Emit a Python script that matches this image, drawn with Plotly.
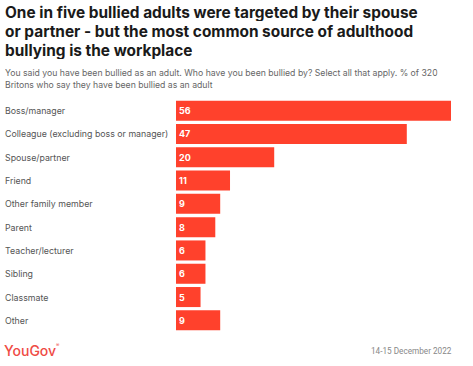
import plotly.graph_objects as go

categories = ["Boss/manager", "Colleague (excluding boss or manager)", "Spouse/partner",
              "Friend", "Other family member", "Parent", "Teacher/lecturer",
              "Sibling", "Classmate", "Other"]
values = [56, 47, 20, 11, 9, 8, 6, 6, 5, 9]

title_lines = ["One in five bullied adults were targeted by their spouse",
               "or partner - but the most common source of adulthood",
               "bullying is the workplace"]
subtitle_lines = ["You said you have been bullied as an adult. Who have you been bullied by? Select all that apply. % of 320",
                  "Britons who say they have been bullied as an adult"]
source_text = "14-15 December 2022"

W, H = 473, 366
L, R, T, B = 176, 22, 99, 34

fig = go.Figure(go.Bar(
    x=values, y=categories, orientation="h",
    marker=dict(color="#ff412c", line=dict(width=0)),
    text=[str(v) for v in values],
    textposition="inside", insidetextanchor="start",
    textfont=dict(family="Inter, Roboto, sans-serif", size=9, color="white", weight="bold"),
    cliponaxis=False,
))


def px(xp):
    return (xp - L) / (W - L - R)


def py(yp):
    return 1 - (yp - T) / (H - T - B)


ann = []
for c in categories:
    ann.append(dict(
        x=px(3), xref="paper", y=c, yref="y",
        text=c, showarrow=False, xanchor="left", yanchor="middle",
        font=dict(family="Inter, sans-serif", size=8.8, color="#555555"),
    ))

title_y = [12.5, 31, 49.5]
for t, yy in zip(title_lines, title_y):
    ann.append(dict(x=px(3), y=py(yy), xref="paper", yref="paper", xanchor="left", yanchor="middle",
                    text="<b>" + t + "</b>", showarrow=False, align="left", height=18,
                    font=dict(family="Inter, sans-serif", size=15.4, color="#1a1a1a")))

sub_y = [72.5, 84]
for t, yy in zip(subtitle_lines, sub_y):
    ann.append(dict(x=px(3), y=py(yy), xref="paper", yref="paper", xanchor="left", yanchor="middle",
                    text=t, showarrow=False, align="left", height=11,
                    font=dict(family="Inter, sans-serif", size=8.7, color="#666666")))

ann += [
    dict(x=px(2), y=py(350), xref="paper", yref="paper", xanchor="left", yanchor="middle",
         text="YouGov", showarrow=False, align="left",
         font=dict(family="Inter, sans-serif", size=14, color="#ef4b45", weight=500)),
    dict(x=px(54), y=py(345), xref="paper", yref="paper", xanchor="left", yanchor="middle",
         text="®", showarrow=False, align="left",
         font=dict(family="Inter, sans-serif", size=5, color="#ef4b45")),
    dict(x=px(454), y=py(351), xref="paper", yref="paper", xanchor="right", yanchor="middle",
         text=source_text, showarrow=False, align="right",
         font=dict(family="Roboto, sans-serif", size=8.2, color="#888888")),
]

fig.update_layout(
    width=W, height=H,
    margin=dict(l=L, r=R, t=T, b=B),
    paper_bgcolor="white", plot_bgcolor="white",
    showlegend=False,
    bargap=0.14,
    xaxis=dict(range=[0, 56], visible=False, fixedrange=True),
    yaxis=dict(autorange="reversed", showticklabels=False, showgrid=False,
               zeroline=False, showline=False, ticks="", fixedrange=True),
    annotations=ann,
)

fig.write_html("out.html", post_script="document.body.style.margin='0';",
               config={"displayModeBar": False})
